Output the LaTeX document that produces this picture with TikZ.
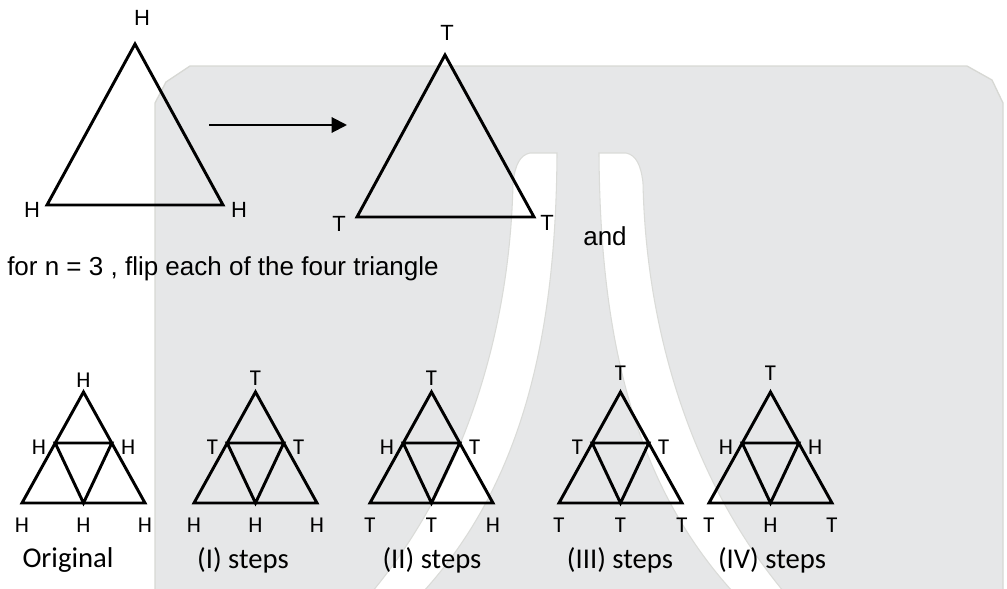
\documentclass[tikz,border=0pt]{standalone}
\usepackage{fontspec}
\setmainfont{Liberation Sans}
\newfontfamily\calibrifont{Carlito}
\usetikzlibrary{arrows.meta,positioning}
\definecolor{panel}{HTML}{E6E7E8}
\definecolor{paneledge}{HTML}{D7D8D4}
\definecolor{bandedge}{HTML}{DADBD8}

\begin{document}
\begin{tikzpicture}[
  x=0.75pt,y=-0.75pt,
  line join=miter,
  triline/.style={draw=black,line width=2.2pt},
  bigletter/.style={font=\fontsize{16.5}{18}\selectfont,inner sep=0pt},
  note/.style={font=\fontsize{19.5}{22}\selectfont,inner sep=0pt},
  letter/.style={font=\calibrifont\fontsize{17}{19}\selectfont,inner sep=0pt},
  steplabel/.style={font=\calibrifont\fontsize{21.5}{24}\selectfont,inner sep=0pt},
  flip/.style={-{Triangle[length=11.5pt,width=11.5pt]},line width=1.5pt}
]
\useasboundingbox (0,0) rectangle (1007,589);

% grey backdrop and its two white bands
\path[fill=panel,draw=paneledge,line width=1pt]
  (155,592) -- (155,103) -- (166,82) -- (190,66) -- (967,66)
  -- (992,80) -- (1003,103) -- (1003,592);
\path[fill=white,draw=bandedge,line width=.8pt]
  (372,592) .. controls (465,480) and (510,330) .. (513,183)
  .. controls (515,165) and (520,155) .. (530,153) -- (557,153)
  .. controls (556,330) and (525,480) .. (423,592) -- cycle;
\path[fill=white,draw=bandedge,line width=.8pt]
  (599,153) .. controls (600,330) and (631,480) .. (733,592)
  -- (784,592) .. controls (691,480) and (646,330) .. (643,183)
  .. controls (641,165) and (636,155) .. (626,153) -- cycle;

% n = 2: one flip turns every H into T
\coordinate (hTop) at (135,44);
\coordinate (hLeft) at (47,205);
\coordinate (hRight) at (223,205);
\draw[triline] (hTop) -- (hLeft) -- (hRight) -- cycle;
\node[bigletter] (hA) at (142,18) {H};
\node[bigletter] (hB) at (32,210) {H};
\node[bigletter] (hC) at (239,210) {H};

\coordinate (flipstart) at (209,125);
\coordinate (flipend) at (347,125);
\draw[flip] (flipstart) -- (flipend);

\coordinate (tTop) at (445,55);
\coordinate (tLeft) at (357,217);
\coordinate (tRight) at (534,217);
\draw[triline] (tTop) -- (tLeft) -- (tRight) -- cycle;
\node[bigletter] (tA) at (447,33) {T};
\node[bigletter] (tB) at (339,224) {T};
\node[bigletter] (tC) at (547,223) {T};

\node[note] (andword) at (605,236) {and};
\node[note,anchor=west] (rule) at (7,269) {for n = 3 , flip each of the four triangle};

% n = 3: the original and the four steps
\foreach \cx/\ty/\capx/\a/\l/\r/\p/\q/\s/\cap [count=\i] in {
    83.5/380/68/H/H/H/H/H/H/Original,
    255.5/378/243/T/T/T/H/H/H/{(I) steps},
    431.5/378/432/T/H/T/T/T/H/{(II) steps},
    620.5/373/620/T/T/T/T/T/T/{(III) steps},
    770.5/373/772/T/H/H/T/H/T/{(IV) steps}}{
  \coordinate (top\i) at (\cx,392);
  \coordinate (bl\i) at (\cx-61.5,503);
  \coordinate (br\i) at (\cx+61.5,503);
  \coordinate (ml\i) at (\cx-28.3,443);
  \coordinate (mr\i) at (\cx+28.3,443);
  \coordinate (mb\i) at (\cx,503);
  \draw[triline] (top\i) -- (bl\i) -- (br\i) -- cycle;
  \draw[triline] (ml\i) -- (mr\i) -- (mb\i) -- cycle;
  \node[letter] (a\i) at (\cx,\ty) {\a};
  \node[letter,left=6.75pt of ml\i,yshift=-3pt] (l\i) {\l};
  \node[letter,right=6.75pt of mr\i,yshift=-3pt] (r\i) {\r};
  \node[letter,below=11pt of bl\i] (p\i) {\p};
  \node[letter,below=11pt of mb\i] (q\i) {\q};
  \node[letter,below=11pt of br\i] (s\i) {\s};
  \node[steplabel] (c\i) at (\capx,560) {\cap};
}

\end{tikzpicture}
\end{document}
